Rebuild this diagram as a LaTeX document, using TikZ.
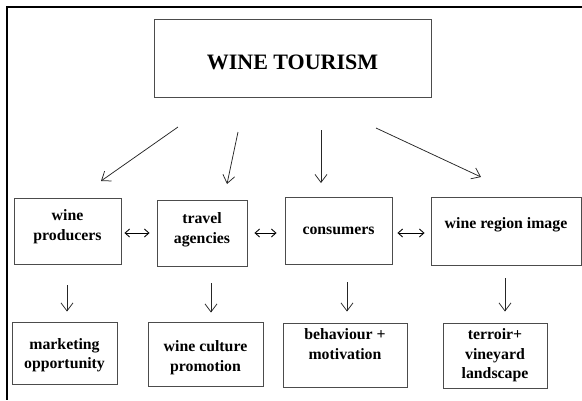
\documentclass[tikz,border=0pt]{standalone}
\usepackage{fontspec}
\setmainfont{Liberation Serif}
\usetikzlibrary{arrows.meta,positioning}

\tikzset{
  box/.style={draw=black!70, line width=0.9pt, align=center, inner sep=0pt,
    font=\bfseries\fontsize{15.8}{19.5}\selectfont},
  arr/.style={draw=black!85, line width=0.75pt, -{Straight Barb[length=8pt,width=12pt]}},
  dbl/.style={line width=0.9pt, {Straight Barb[length=4.5pt,width=8pt]}-{Straight Barb[length=4.5pt,width=8pt]}}
}

\begin{document}
\begin{tikzpicture}[x=1pt,y=-1pt]
  \useasboundingbox (0,0) rectangle (582,400);
  % outer frame
  \draw[line width=2.5pt] (582,7) -- (7,7) -- (7,400);

  % the title box
  \node[box, minimum width=277pt, minimum height=78pt, font=\bfseries\fontsize{22}{24}\selectfont,
    text height=22pt, text depth=0pt] (tour) at (292.5,58) {WINE TOURISM};

  % the middle row
  \node[box, minimum width=107pt, minimum height=66pt] (prod) at (67.5,231) {wine\\producers\\[-7.5pt]\mbox{}};
  \node[box, minimum width=90pt, minimum height=66pt] (agen) at (202,233) {travel\\agencies\\[-9.5pt]\mbox{}};
  \node[box, minimum width=107pt, minimum height=67pt] (cons) at (338.5,230.5) {consumers};
  \node[box, minimum width=150pt, minimum height=68pt] (region) at (506,231) {wine region image\\[-3.5pt]\mbox{}};

  % the bottom row
  \node[box, minimum width=105pt, minimum height=62pt] (mkt) at (64.5,353) {\mbox{}\\[-4.5pt]marketing\\opportunity};
  \node[box, minimum width=115pt, minimum height=64pt] (cult) at (205.5,354) {\mbox{}\\[-1.5pt]wine culture\\promotion};
  \node[box, minimum width=124pt, minimum height=64pt] (behav) at (345,355) {behaviour +\\motivation\\[2.5pt]\mbox{}};
  \node[box, minimum width=104pt, minimum height=65pt] (terr) at (495,355.5) {terroir+\\vineyard\\landscape};

  % arrows from the title
  \coordinate (s1) at (178,127); \coordinate (e1) at (101,181);
  \coordinate (s2) at (238,132); \coordinate (e2) at (227,184);
  \coordinate (s3) at (321,130); \coordinate (e3) at (321,183);
  \coordinate (s4) at (376,128); \coordinate (e4) at (481,177);
  \foreach \i in {1,...,4}
    \draw[arr] (s\i) -- (e\i);

  % double arrows between the boxes
  \coordinate (mid) at (0,233);
  \draw[dbl, shorten <=3pt, shorten >=7pt] (prod.east |- mid) -- (agen.west |- mid);
  \draw[dbl, shorten <=7pt, shorten >=8pt] (agen.east |- mid) -- (cons.west |- mid);
  \draw[dbl, shorten <=5pt, shorten >=6pt] (cons.east |- mid) -- (region.west |- mid);

  % arrows down to the bottom row
  \draw[arr, shorten <=21pt, shorten >=10pt] ([xshift=-0.5pt]prod.south) -- ([xshift=-0.5pt]prod.south |- mkt.north);
  \draw[arr, shorten <=17pt, shorten >=9pt] ([xshift=9pt]agen.south) -- ([xshift=9pt]agen.south |- cult.north);
  \draw[arr, shorten <=18pt, shorten >=11pt] ([xshift=8.5pt]cons.south) -- ([xshift=8.5pt]cons.south |- behav.north);
  \draw[arr, shorten <=13pt, shorten >=11pt] ([xshift=-1pt]region.south) -- ([xshift=-1pt]region.south |- terr.north);
\end{tikzpicture}
\end{document}
